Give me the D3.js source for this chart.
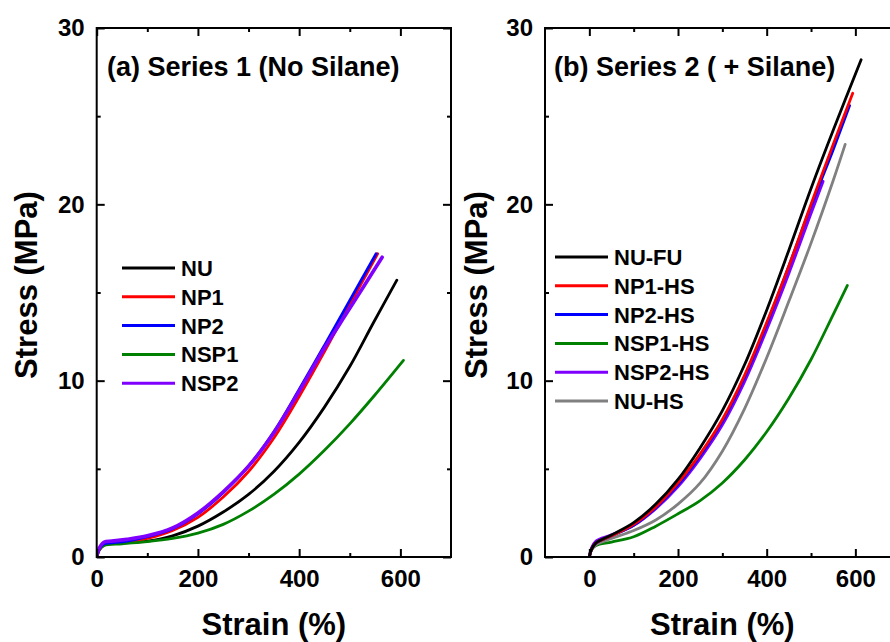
<!DOCTYPE html>
<html>
<head>
<meta charset="utf-8">
<script src="https://cdn.jsdelivr.net/npm/d3@7"></script>
<style>
html,body{margin:0;padding:0;background:#fff;}
svg text{font-family:Arial,"Liberation Sans",sans-serif;font-weight:bold;fill:#000;}
</style>
</head>
<body>
<svg id="chart" width="890" height="642"></svg>
<script>
// ---------- DATA ----------
// Panel (a) Series 1 (No Silane)
const nuStrain   = [0,5,15,50,100,150,200,250,300,350,400,450,500,547,593];
const nuStress   = [0,0.4,0.7,0.78,0.9,1.2,1.75,2.55,3.55,4.85,6.5,8.5,10.8,13.3,15.7];
const np1Strain  = [0,5,15,30,60,100,150,200,250,300,350,400,450,500,555];
const np1Stress  = [0,0.4,0.7,0.78,0.85,1.05,1.5,2.25,3.4,4.85,6.75,9.1,11.65,14.3,17.2];
const np2Strain  = [0,5,15,30,60,100,150,200,250,300,350,400,450,500,552];
const np2Stress  = [0,0.45,0.75,0.8,0.9,1.15,1.6,2.45,3.65,5.15,7.1,9.5,12.0,14.55,17.2];
const nsp1Strain = [0,5,15,50,100,150,200,250,300,350,400,450,500,550,606];
const nsp1Stress = [0,0.4,0.65,0.75,0.87,1.05,1.35,1.85,2.6,3.55,4.7,6.05,7.55,9.2,11.15];
const nsp2Strain = [0,5,15,30,60,100,150,200,250,300,350,400,450,500,564];
const nsp2Stress = [0,0.5,0.85,0.9,1.0,1.2,1.65,2.5,3.7,5.15,7.05,9.4,11.85,14.1,17.0];

// Panel (b) Series 2 (+ Silane)
const nufuStrain   = [0,5,15,50,100,150,200,250,300,350,400,450,500,550,613];
const nufuStress   = [0,0.45,0.8,1.25,1.95,3.0,4.4,6.2,8.3,10.9,14.0,17.4,20.9,24.2,28.2];
const np1hsStrain  = [0,5,15,50,100,150,200,250,300,350,400,450,500,550,594];
const np1hsStress  = [0,0.45,0.8,1.2,1.85,2.85,4.2,5.85,7.8,10.3,13.3,16.5,20.0,23.4,26.3];
const np2hsStrain  = [0,5,15,50,100,150,200,250,300,350,400,450,500,550,587];
const np2hsStress  = [0,0.45,0.8,1.2,1.8,2.8,4.1,5.75,7.7,10.2,13.2,16.5,19.9,23.1,25.6];
const nsp1hsStrain = [0,5,15,50,100,150,200,250,300,350,400,450,500,550,582];
const nsp1hsStress = [0,0.4,0.65,0.85,1.15,1.75,2.45,3.2,4.2,5.5,7.1,9.0,11.2,13.75,15.4];
const nsp2hsStrain = [0,5,15,50,100,150,200,250,300,350,400,450,500,527];
const nsp2hsStress = [0,0.5,0.9,1.25,1.8,2.75,4.0,5.6,7.5,9.95,12.9,16.1,19.5,21.3];
const nuhsStrain   = [0,5,15,50,100,150,200,250,300,350,400,450,500,550,577];
const nuhsStress   = [0,0.4,0.7,1.05,1.5,2.1,3.0,4.2,6.0,8.4,11.3,14.5,17.8,21.35,23.4];

const seriesA = ["NU","NP1","NP2","NSP1","NSP2"];
const seriesB = ["NU-FU","NP1-HS","NP2-HS","NSP1-HS","NSP2-HS","NU-HS"];
const xTicksMajor = [0,200,400,600];
const xTicksMinor = [100,300,500];
const yTicksMajor = [0,10,20,30];
const yTicksMinor = [5,15,25];
const titles = ["(a) Series 1 (No Silane)","(b) Series 2 ( + Silane)"];
const xLabel = "Strain (%)";
const yLabel = "Stress (MPa)";

const colors = {
  "NU":"#000000","NP1":"#ff0000","NP2":"#0000ff","NSP1":"#008000","NSP2":"#8000ff",
  "NU-FU":"#000000","NP1-HS":"#ff0000","NP2-HS":"#0000ff","NSP1-HS":"#008000","NSP2-HS":"#8000ff","NU-HS":"#808080"
};

const zip = (a,b)=>a.map((v,i)=>[v,b[i]]);
const dataA = {
  "NU":zip(nuStrain,nuStress),"NP1":zip(np1Strain,np1Stress),"NP2":zip(np2Strain,np2Stress),
  "NSP1":zip(nsp1Strain,nsp1Stress),"NSP2":zip(nsp2Strain,nsp2Stress)
};
const dataB = {
  "NU-FU":zip(nufuStrain,nufuStress),"NP1-HS":zip(np1hsStrain,np1hsStress),"NP2-HS":zip(np2hsStrain,np2hsStress),
  "NSP1-HS":zip(nsp1hsStrain,nsp1hsStress),"NSP2-HS":zip(nsp2hsStrain,nsp2hsStress),"NU-HS":zip(nuhsStrain,nuhsStress)
};

// ---------- LAYOUT ----------
const svg = d3.select("#chart");
const yTop = 28, yBot = 557;
const panels = [
  {x0:96.7, x1:451, dom:[0,700], names:seriesA, data:dataA, drawOrder:["NU","NP1","NSP1","NP2","NSP2"],
   title:titles[0], titleX:107, legX:122, legY:268, yLabX:37, purpleW:3.6},
  {x0:545, x1:899.7, dom:[-100,700], names:seriesB, data:dataB, drawOrder:["NSP1-HS","NU-HS","NSP2-HS","NP2-HS","NP1-HS","NU-FU"],
   title:titles[1], titleX:554, legX:555, legY:257, yLabX:487, purpleW:3}
];

const y = d3.scaleLinear().domain([0,30]).range([yBot,yTop]);

panels.forEach(p=>{
  const x = d3.scaleLinear().domain(p.dom).range([p.x0,p.x1]);
  const g = svg.append("g");

  const clipId = "clip"+Math.round(p.x0);
  svg.append("clipPath").attr("id",clipId).append("rect")
     .attr("x",p.x0).attr("y",yTop-10).attr("width",p.x1-p.x0).attr("height",yBot-yTop+10);

  // curves
  const line = d3.line().x(d=>x(d[0])).y(d=>y(d[1])).curve(d3.curveCatmullRom.alpha(0.5));
  const cg = g.append("g").attr("clip-path",`url(#${clipId})`);
  p.drawOrder.forEach(n=>{
    cg.append("path").datum(p.data[n]).attr("d",line)
      .attr("fill","none").attr("stroke",colors[n])
      .attr("stroke-width", colors[n]==="#8000ff" ? p.purpleW : 2.8)
      .attr("stroke-linejoin","round").attr("stroke-linecap","round");
  });

  // axes
  const styleAxis = sel=>{
    sel.select(".domain").remove();
    sel.selectAll(".tick line").attr("stroke","#000").attr("stroke-width",2);
    sel.selectAll(".tick text").style("font-size","24px").style("font-weight","bold")
       .style("font-family","Arial, 'Liberation Sans', sans-serif").attr("fill","#000");
  };
  g.append("g").attr("transform",`translate(0,${yBot})`)
    .call(d3.axisBottom(x).tickValues(xTicksMajor).tickSize(-8).tickPadding(13).tickFormat(d3.format("d")))
    .call(styleAxis);
  g.append("g").attr("transform",`translate(0,${yBot})`)
    .call(d3.axisBottom(x).tickValues(xTicksMinor).tickSize(-4).tickFormat(""))
    .call(styleAxis);
  g.append("g").attr("transform",`translate(0,${yTop})`)
    .call(d3.axisTop(x).tickValues(xTicksMajor).tickSize(-8).tickFormat(""))
    .call(styleAxis);
  g.append("g").attr("transform",`translate(0,${yTop})`)
    .call(d3.axisTop(x).tickValues(xTicksMinor).tickSize(-4).tickFormat(""))
    .call(styleAxis);
  g.append("g").attr("transform",`translate(${p.x0},0)`)
    .call(d3.axisLeft(y).tickValues(yTicksMajor).tickSize(-8).tickPadding(12).tickFormat(d3.format("d")))
    .call(styleAxis);
  g.append("g").attr("transform",`translate(${p.x0},0)`)
    .call(d3.axisLeft(y).tickValues(yTicksMinor).tickSize(-4).tickFormat(""))
    .call(styleAxis);
  g.append("g").attr("transform",`translate(${p.x1},0)`)
    .call(d3.axisRight(y).tickValues(yTicksMajor).tickSize(-8).tickFormat(""))
    .call(styleAxis);
  g.append("g").attr("transform",`translate(${p.x1},0)`)
    .call(d3.axisRight(y).tickValues(yTicksMinor).tickSize(-4).tickFormat(""))
    .call(styleAxis);

  // frame
  g.append("rect").attr("x",p.x0).attr("y",yTop).attr("width",p.x1-p.x0).attr("height",yBot-yTop)
    .attr("fill","none").attr("stroke","#000").attr("stroke-width",2);

  // title
  g.append("text").attr("x",p.titleX).attr("y",76).style("font-size","27px").text(p.title);

  // axis labels
  g.append("text").attr("x",(p.x0+p.x1)/2).attr("y",635).attr("text-anchor","middle")
    .style("font-size","31px").text(xLabel);
  g.append("text").attr("transform",`translate(${p.yLabX},${285}) rotate(-90)`)
    .attr("text-anchor","middle").style("font-size","31px").text(yLabel);

  // legend
  const lg = g.append("g");
  p.names.forEach((n,i)=>{
    const yy = p.legY + i*28.8;
    lg.append("line").attr("x1",p.legX).attr("x2",p.legX+53).attr("y1",yy).attr("y2",yy)
      .attr("stroke",colors[n]).attr("stroke-width",3);
    lg.append("text").attr("x",p.legX+59).attr("y",yy+8).style("font-size","22px").text(n);
  });
});
</script>
</body>
</html>
